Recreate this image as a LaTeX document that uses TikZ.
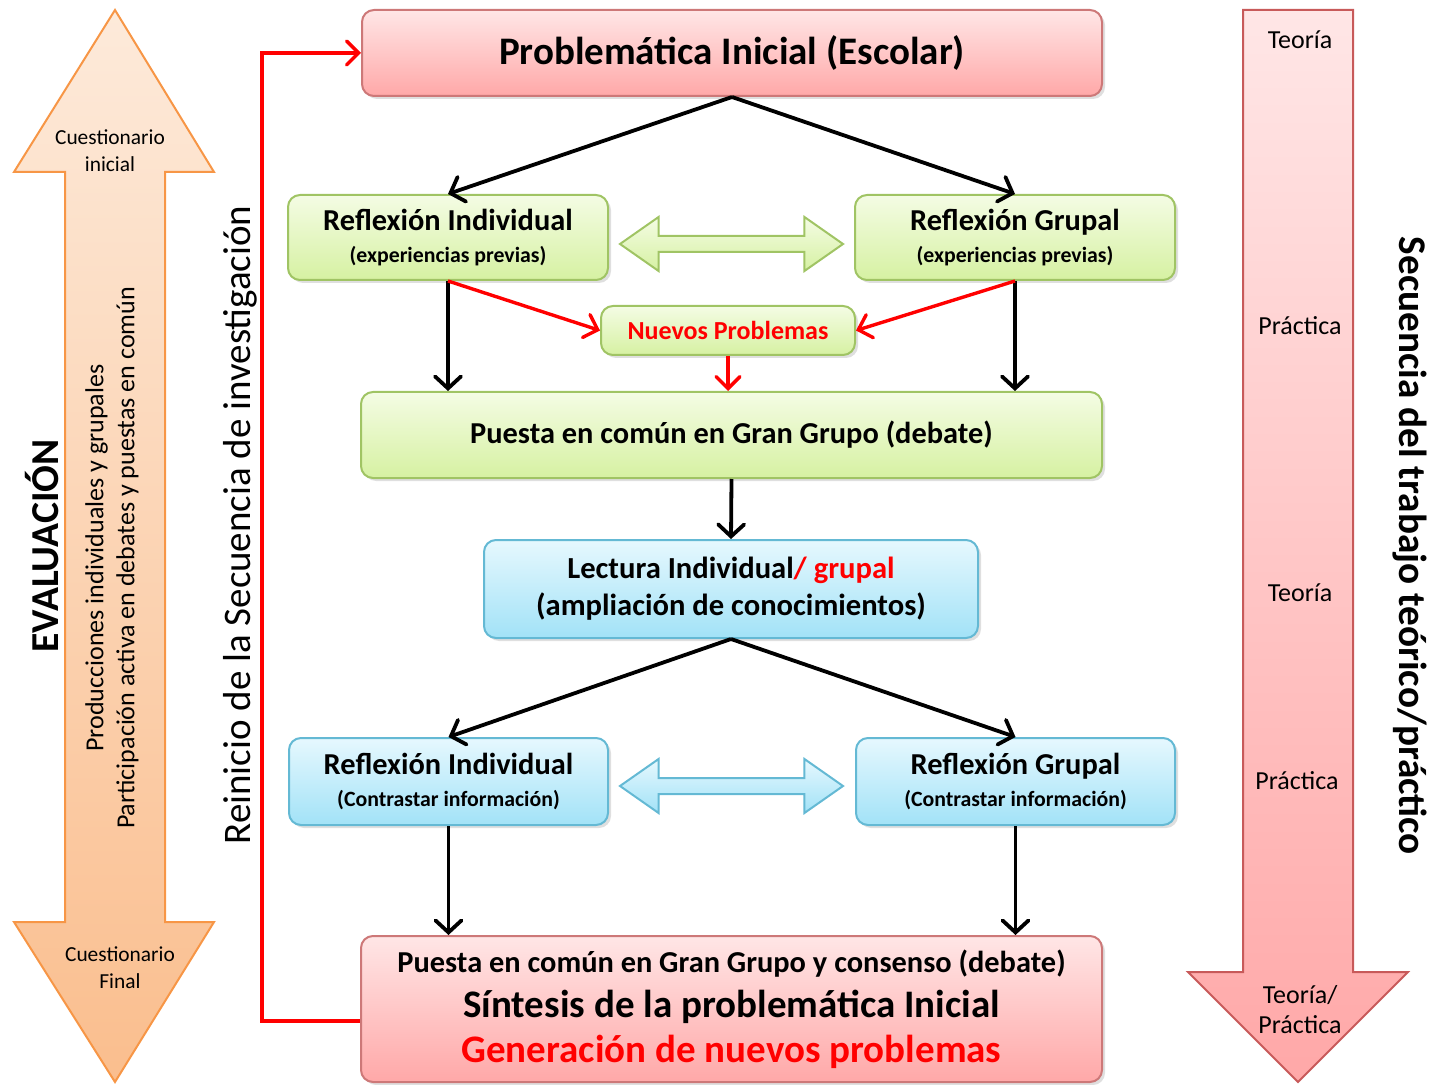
\documentclass[tikz,border=0pt]{standalone}
\usepackage{fontspec}
\setmainfont{Carlito}
\usetikzlibrary{arrows.meta,shapes.arrows,shadows}

\definecolor{pinktop}{RGB}{255,230,230}
\definecolor{pinkbot}{RGB}{255,168,168}
\definecolor{pinkline}{RGB}{205,120,120}
\definecolor{greentop}{RGB}{244,252,228}
\definecolor{greenbot}{RGB}{214,241,162}
\definecolor{greenline}{RGB}{160,196,100}
\definecolor{bluetop}{RGB}{230,248,254}
\definecolor{bluebot}{RGB}{162,226,247}
\definecolor{blueline}{RGB}{100,185,212}
\definecolor{orangetop}{RGB}{253,234,218}
\definecolor{orangebot}{RGB}{250,190,142}
\definecolor{orangeline}{RGB}{247,150,70}
\definecolor{redline}{RGB}{200,90,90}

\newcommand{\boxheadfont}{\fontsize{15.2}{16}\selectfont\bfseries}
\newcommand{\boxsubfont}{\fontsize{10.9}{12}\selectfont\bfseries}

\begin{document}
\begin{tikzpicture}[
    x=0.5pt, y=-0.5pt,
    every node/.style={align=center, inner sep=0pt},
    box shadow/.style={drop shadow={opacity=0.25, shadow xshift=1.5pt, shadow yshift=-1.5pt}},
    pink box/.style={draw=pinkline, line width=1pt, rounded corners=6pt, top color=pinktop, bottom color=pinkbot, box shadow},
    green box/.style={draw=greenline, line width=1pt, rounded corners=6pt, top color=greentop, bottom color=greenbot, box shadow},
    blue box/.style={draw=blueline, line width=1pt, rounded corners=6pt, top color=bluetop, bottom color=bluebot, box shadow},
    black arrow/.style={draw, line width=1.9pt, -{Straight Barb[length=6pt,width=13pt,line cap=round]}},
    red arrow/.style={draw=red, line width=1.7pt, -{Straight Barb[length=6pt,width=12pt,line cap=round]}},
    swap arrow/.style={double arrow, inner sep=3.5pt, minimum height=111.5pt, double arrow head extend=9.5pt, double arrow tip angle=70, line width=1pt},
    side text/.style={font=\fontsize{13}{15}\selectfont},
    ]
\useasboundingbox (0,0) rectangle (1429,1085);
% side arrows
\path[draw=orangeline, line width=1pt, top color=orangetop, bottom color=orangebot]
    (115,10) -- (214,172) -- (165,172) -- (165,922) -- (214,922) -- (115,1082)
    -- (14,922) -- (65,922) -- (65,172) -- (14,172) -- cycle;
\path[draw=redline, line width=1pt, top color=pinktop, bottom color=pinkbot]
    (1243,10) -- (1353,10) -- (1353,972) -- (1408,972) -- (1298,1082)
    -- (1188,972) -- (1243,972) -- cycle;
\node[font=\fontsize{10.7}{13.5}\selectfont] (cuesini) at (110,151) {Cuestionario\\inicial};
\node[font=\fontsize{10.7}{13.5}\selectfont] (cuesfin) at (120,968) {Cuestionario\\Final};
\node[rotate=90, font=\fontsize{13}{15.5}\selectfont] (producc) at (112,558) {Producciones individuales y grupales\\Participación activa en debates y puestas en común};
\node[rotate=90, font=\fontsize{19.8}{22}\selectfont\bfseries] (evalua) at (42,546) {EVALUACIÓN};
\node[rotate=90, font=\fontsize{19.5}{22}\selectfont] (reinicio) at (240,525) {Reinicio de la Secuencia de investigación};
\node[side text] (teoria1) at (1300,40) {Teoría};
\node[side text] (practica1) at (1300,326) {Práctica};
\node[side text] (teoria2) at (1300,593) {Teoría};
\node[side text] (practica2) at (1297,781) {Práctica};
\node[side text] (teoprac) at (1300,1010) {Teoría/\\Práctica};
\node[rotate=-90, font=\fontsize{19.6}{22}\selectfont\bfseries] (secuencia) at (1410,546) {Secuencia del trabajo teórico/práctico};
% boxes
\node[pink box, minimum width=370pt, minimum height=43pt, font=\fontsize{19.5}{22}\selectfont\bfseries] (inicial) at (732,53) {Problemática Inicial (Escolar)};
\node[green box, minimum width=160pt, minimum height=42.5pt, font=\boxheadfont] (refind1) at (448,237.5) {Reflexión Individual\\{\boxsubfont (experiencias previas)}};
\node[green box, minimum width=160pt, minimum height=42.5pt, font=\boxheadfont] (refgru1) at (1015,237.5) {Reflexión Grupal\\{\boxsubfont (experiencias previas)}};
\node[green box, minimum width=127pt, minimum height=24.5pt, font=\fontsize{13}{15}\selectfont\bfseries, text=red] (nuevos) at (728,330.5) {Nuevos Problemas};
\node[green box, minimum width=370.5pt, minimum height=43pt, font=\boxheadfont] (puesta1) at (731.5,435) {Puesta en común en Gran Grupo (debate)};
\node[blue box, minimum width=247pt, minimum height=49pt, font=\fontsize{15.3}{18.5}\selectfont\bfseries] (lectura) at (731,589) {Lectura Individual{\color{red}/ grupal}\\(ampliación de conocimientos)};
\node[blue box, minimum width=159.5pt, minimum height=43.5pt, font=\boxheadfont] (refind2) at (448.5,781.5) {Reflexión Individual\\{\boxsubfont (Contrastar información)}};
\node[blue box, minimum width=159.5pt, minimum height=43.5pt, font=\boxheadfont] (refgru2) at (1015.5,781.5) {Reflexión Grupal\\{\boxsubfont (Contrastar información)}};
\node[pink box, minimum width=370.5pt, minimum height=73pt, font=\fontsize{19.5}{22.5}\selectfont\bfseries] (sintesis) at (731.5,1009) {{\fontsize{15.2}{16}\selectfont Puesta en común en Gran Grupo y consenso (debate)}\\Síntesis de la problemática Inicial\\{\color{red}Generación de nuevos problemas}};
% swap arrows
\node[swap arrow, draw=greenline, top color=greentop, bottom color=greenbot] (swapverde) at (731.5,244) {};
\node[swap arrow, draw=blueline, top color=bluetop, bottom color=bluebot] (swapazul) at (731.5,786) {};
% connectors
\draw[black arrow] (inicial.south) -- (refind1.north);
\draw[black arrow] (inicial.south) -- (refgru1.north);
\draw[black arrow] (refind1.south) -- (refind1.south |- puesta1.north);
\draw[black arrow] (refgru1.south) -- (refgru1.south |- puesta1.north);
\draw[red arrow] (refind1.south) -- (nuevos.west);
\draw[red arrow] (refgru1.south) -- (nuevos.east);
\draw[red arrow] (nuevos.south) -- (nuevos.south |- puesta1.north);
\draw[black arrow] (puesta1.south) -- (lectura.north);
\draw[black arrow] (lectura.south) -- (refind2.north);
\draw[black arrow] (lectura.south) -- (refgru2.north);
\draw[black arrow] (refind2.south) -- (refind2.south |- sintesis.north);
\draw[black arrow] (refgru2.south) -- (refgru2.south |- sintesis.north);
\draw[red arrow] ([yshift=-6pt]sintesis.west) -- ++(-98,0) |- (inicial.west);
\end{tikzpicture}
\end{document}
